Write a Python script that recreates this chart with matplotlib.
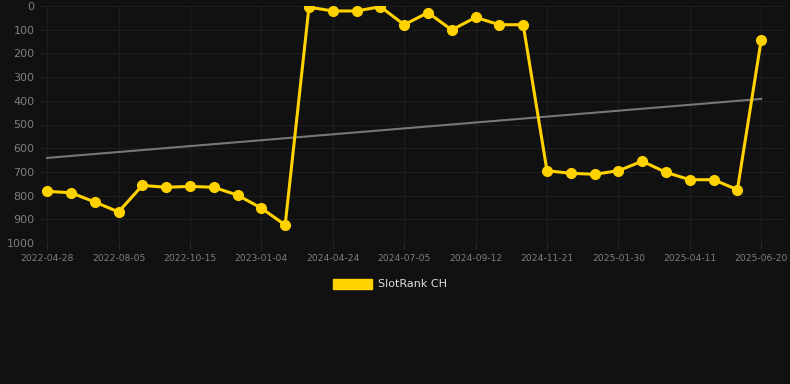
import numpy as np
import matplotlib
matplotlib.use("Agg")
import matplotlib.pyplot as plt

# SlotRank CH, one point per step, every 3rd step labelled
ranks = [782, 788, 827, 869, 757, 765, 761, 765, 798, 853, 924,
         5, 21, 21, 3, 79, 28, 101, 48, 79, 79,
         695, 706, 710, 695, 655, 702, 733, 733, 775, 143]
tick_labels = ["2022-04-28", "2022-08-05", "2022-10-15", "2023-01-04",
               "2024-04-24", "2024-07-05", "2024-09-12", "2024-11-21",
               "2025-01-30", "2025-04-11", "2025-06-20"]
trend_ends = [641, 392]

bg = "#111111"
gold = "#FFD200"

fig = plt.figure(figsize=(7.9, 3.84), dpi=100, facecolor=bg)
ax = fig.add_axes([40 / 790, 1 - 243 / 384, 745 / 790, 237 / 384])
ax.set_facecolor(bg)

x = np.arange(len(ranks))
ax.plot([x[0], x[-1]], trend_ends, color="#777777", lw=1.5, zorder=2)
ax.plot(x, ranks, color=gold, lw=2.2, marker="o", ms=7, zorder=3,
        label="SlotRank CH")

ax.set_xlim(-0.3, 31.0)
ax.set_ylim(1000, 0)
ax.set_yticks(range(0, 1001, 100))
ax.set_xticks(x[::3])
ax.set_xticklabels(tick_labels)

ax.grid(True, color="#1e1e1e", lw=0.8, zorder=0)
for s in ax.spines.values():
    s.set_visible(False)
ax.tick_params(axis="y", length=0, colors="#7f7f7f", labelsize=8, pad=4)
ax.tick_params(axis="x", length=4, color="#2a2a2a", colors="#7f7f7f",
               labelsize=6.6, pad=4)

leg = fig.legend(handles=[plt.Rectangle((0, 0), 1, 1, color=gold)],
                 labels=["SlotRank CH"], loc="center",
                 bbox_to_anchor=(390 / 790, 1 - 284 / 384), frameon=False,
                 fontsize=8, handlelength=3.5, handleheight=1.0,
                 handletextpad=0.6)
for t in leg.get_texts():
    t.set_color("#dddddd")

fig.savefig("out.png", dpi=100, facecolor=bg)
